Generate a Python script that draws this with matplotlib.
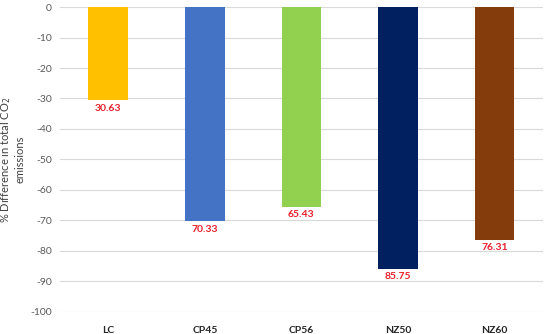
import matplotlib
matplotlib.use("Agg")
import matplotlib.pyplot as plt

plt.rcParams['font.family'] = ['Lato', 'DejaVu Sans']

categories = ["LC", "CP45", "CP56", "NZ50", "NZ60"]
values = [-30.63, -70.33, -65.43, -85.75, -76.31]
colors = ["#FFC000", "#4472C4", "#92D050", "#002060", "#843C0C"]
yticks = list(range(0, -101, -10))

fig = plt.figure(figsize=(5.5, 3.34), dpi=100)
ax = fig.add_axes([0.109, 0.066, 0.878, 0.913])

x = range(len(categories))
ax.bar(x, values, width=0.41, color=colors, zorder=3)
for xi, v in zip(x, values):
    ax.text(xi, v - 1.2, f"{abs(v):.2f}", ha="center", va="top",
            color="#E8202A", fontsize=7.5, fontweight="bold")

ax.set_ylim(-100, 0)
ax.set_xlim(-0.5, len(categories) - 0.5)
ax.set_yticks(yticks)
ax.set_yticklabels([str(t) for t in yticks], fontsize=7.5, color="#595959")
ax.set_xticks(list(x))
ax.set_xticklabels(categories, fontsize=7.5, color="#262626", fontweight="bold")
ax.grid(axis="y", color="#D9D9D9", linewidth=0.8, zorder=0)
for s in ax.spines.values():
    s.set_visible(False)
ax.tick_params(length=0, pad=6)
ax.tick_params(axis="x", pad=10)
ax.set_ylabel("% Difference in total CO$_2$\nemissions", fontsize=8, color="#404040",
              linespacing=1.1)
ax.yaxis.set_label_coords(-0.072, 0.5)

fig.savefig("out.png", dpi=100)
